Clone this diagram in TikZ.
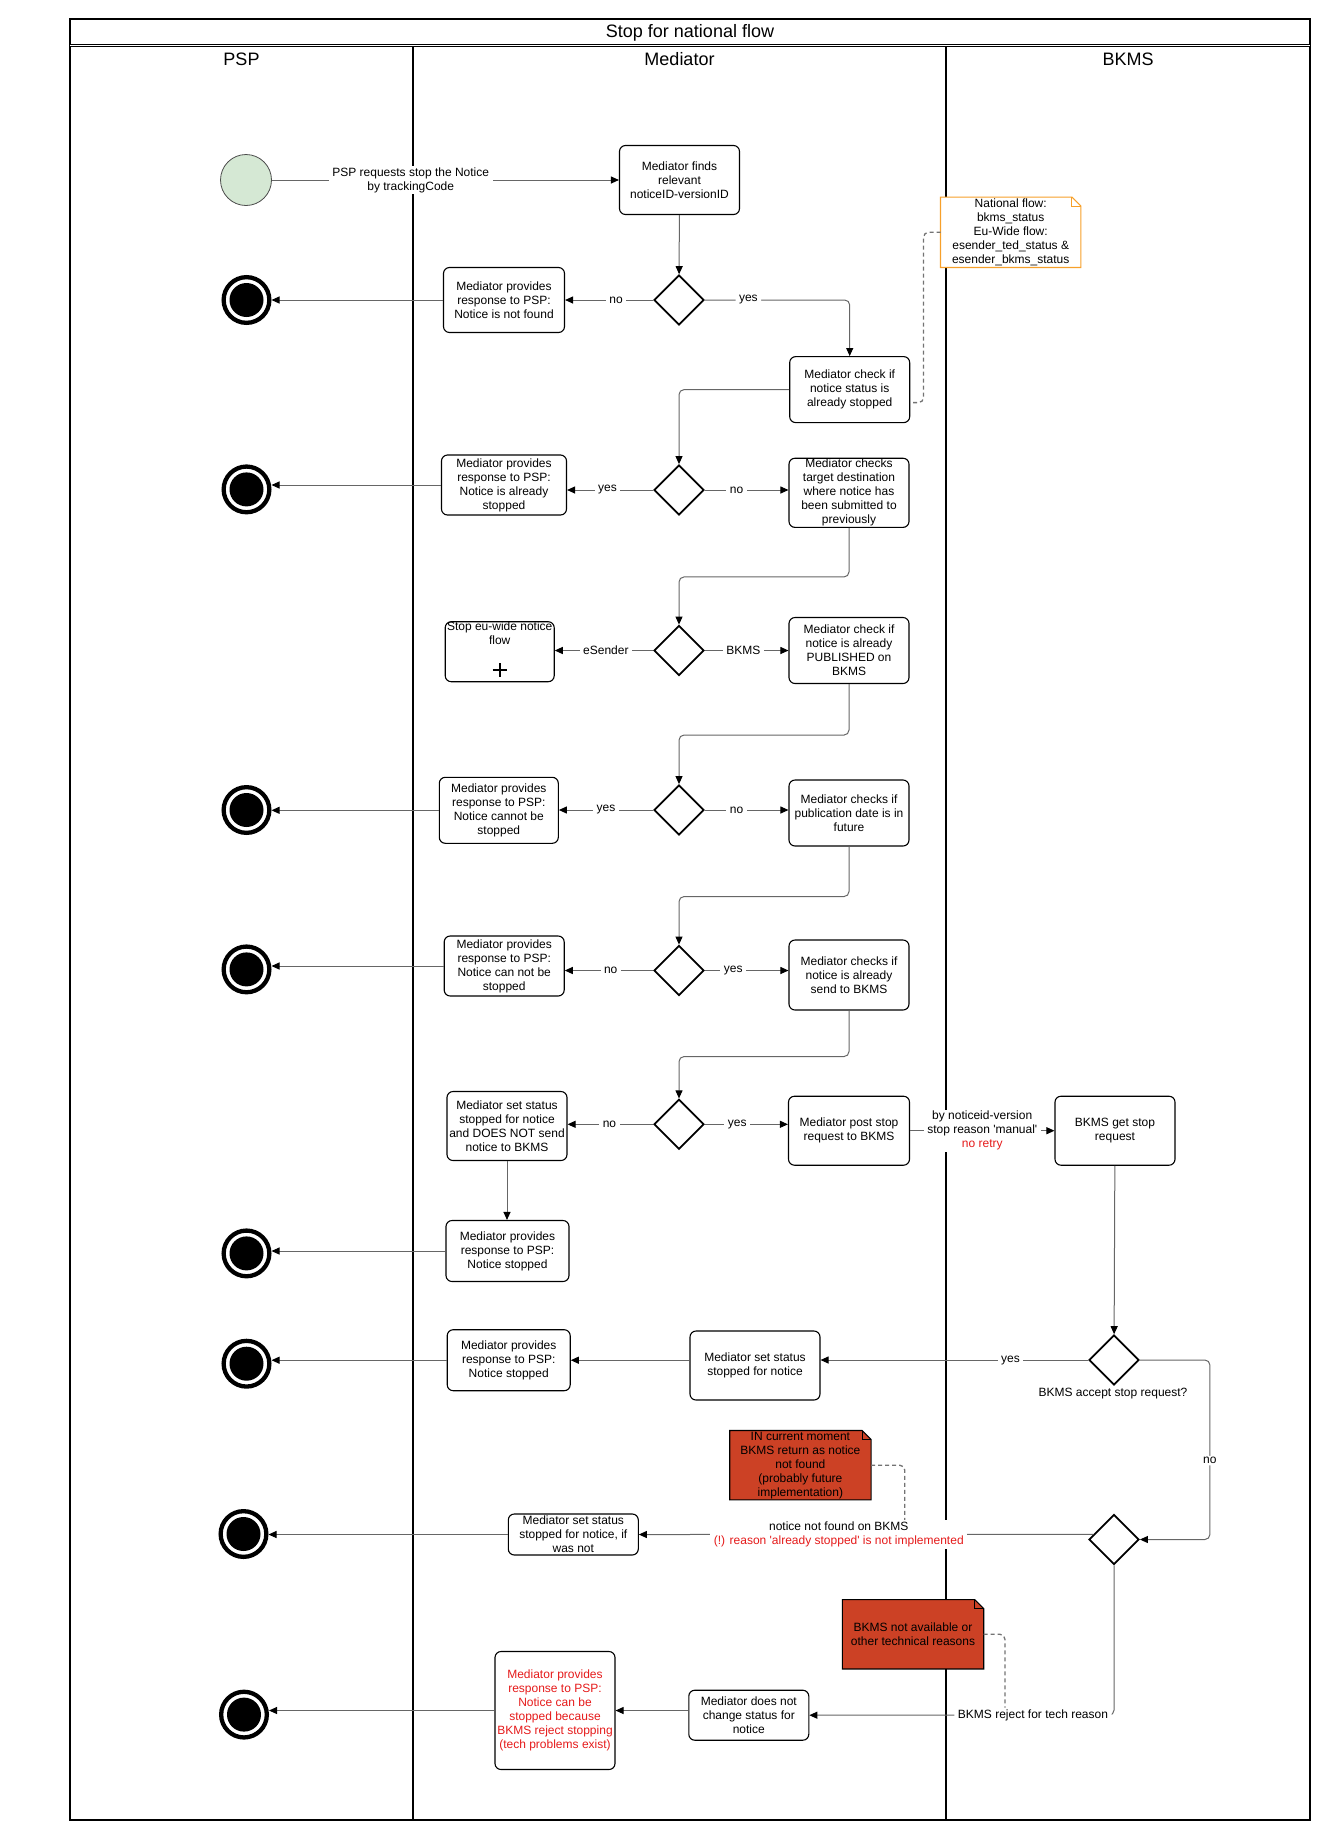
\documentclass[tikz,border=0pt]{standalone}
\usepackage{fontspec}
\setmainfont{Liberation Sans}
\usetikzlibrary{arrows.meta, shapes.geometric, calc}

\definecolor{startgreen}{HTML}{D5E8D4}
\definecolor{noteorange}{HTML}{F7A02A}
\definecolor{notered}{HTML}{CC4125}
\definecolor{warnred}{HTML}{E51A1A}

% folded corner of a note
\newcommand{\dogear}[2]{%
  \fill[white] ([xshift=-9pt]#1.north east) -- ([xshift=1pt,yshift=1pt]#1.north east) -- ([yshift=-9pt]#1.north east) -- cycle;
  \draw[#2, line width=1.1pt] (#1.north west) -- ([xshift=-9pt]#1.north east) -- ([yshift=-9pt]#1.north east) -- (#1.south east) -- (#1.south west) -- cycle;
  \draw[#2, line width=1.1pt] ([xshift=-9pt]#1.north east) |- ([yshift=-9pt]#1.north east);
}

\begin{document}
\begin{tikzpicture}[x=1pt, y=-1pt,
    every node/.style={font=\fontsize{12}{14}\selectfont},
    lanehead/.style={font=\fontsize{18}{21}\selectfont},
    actbox/.style={draw, rounded corners=6pt, line width=1.1pt, align=center, inner sep=1pt, minimum width=120pt, minimum height=66pt},
    decis/.style={draw, diamond, aspect=1, line width=1.8pt, inner sep=0pt, minimum width=50pt, minimum height=50pt},
    endev/.style={circle, draw, line width=4.3pt, minimum size=45.7pt, inner sep=0pt, path picture={\fill (path picture bounding box.center) circle (17pt);}},
    startev/.style={circle, draw=black!70, line width=0.8pt, fill=startgreen, minimum size=51pt, inner sep=0pt},
    flow/.style={draw=black!60, line width=1pt, -{Triangle[length=8pt, width=7pt, color=black]}},
    elbow/.style={flow, rounded corners=5pt},
    lbl/.style={fill=white, inner xsep=3.5pt, inner ysep=1.5pt, align=center},
    dashlink/.style={draw=black!55, line width=1.3pt, dash pattern=on 4pt off 3pt, rounded corners=5pt},
    notebody/.style={align=center, inner sep=1pt, minimum width=141pt, minimum height=69pt}
]
    \useasboundingbox (0,0) rectangle (1332,1840);

    % Pool and lanes
    \draw[line width=1.8pt] (70,19) rectangle (1310,1820);
    \draw[line width=1pt, double, double distance=0.6pt] (70,45.5) -- (1310,45.5);
    \draw[line width=1.8pt] (413,46) -- (413,1820);
    \draw[line width=1.8pt] (946,46) -- (946,1820);
    \node[lanehead] (title) at (690,32.5) {Stop for national flow};
    \node[lanehead] (lpsp) at (241.5,59.5) {PSP};
    \node[lanehead] (lmed) at (679.5,59.5) {Mediator};
    \node[lanehead] (lbkms) at (1128,59.5) {BKMS};

    % Notes
    \node[notebody, fill=white, minimum width=140pt, minimum height=70pt] (natnote) at (1010.7,232.3) {National flow:\\bkms\_status\\Eu-Wide flow:\\esender\_ted\_status \&\\esender\_bkms\_status};
    \dogear{natnote}{noteorange}
    \node[notebody, fill=notered] (rn1) at (800.4,1465.2) {IN current moment\\BKMS return as notice\\not found\\(probably future\\implementation)};
    \dogear{rn1}{black}
    \node[notebody, fill=notered] (rn2) at (913,1634.3) {BKMS not available or\\other technical reasons};
    \dogear{rn2}{black}

    % Events
    \node[startev] (start) at (246,180) {};
    \node[endev] (e1) at (246.5,300) {};
    \node[endev] (e2) at (246.5,489.4) {};
    \node[endev] (e3) at (246.5,810) {};
    \node[endev] (e4) at (246.5,969.4) {};
    \node[endev] (e5) at (246.5,1253.4) {};
    \node[endev] (e6) at (246.5,1363.7) {};
    \node[endev] (e7) at (243.5,1534) {};
    \node[endev] (e8) at (244,1714.6) {};

    % Decisions
    \node[decis] (d1) at (679,300) {};
    \node[decis] (d2) at (679,490) {};
    \node[decis] (d3) at (679,650.5) {};
    \node[decis] (d4) at (679,810) {};
    \node[decis] (d5) at (679,970.5) {};
    \node[decis] (d6) at (679,1124.3) {};
    \node[decis] (d7) at (1114,1360) {};
    \node[decis] (d8) at (1114,1539.5) {};
    \node (acc) at (1113,1394) {BKMS accept stop request?};

    % Mediator activities
    \node[actbox, minimum height=69pt] (find) at (679.5,180) {Mediator finds\\relevant\\noticeID-versionID};
    \node[actbox, minimum width=121pt, minimum height=65pt] (nf) at (504,300) {Mediator provides\\response to PSP:\\Notice is not found};
    \node[actbox] (cs) at (849.7,389.6) {Mediator check if\\notice status is\\already stopped};
    \node[actbox, minimum width=125pt, minimum height=60pt] (ab) at (504,485) {Mediator provides\\response to PSP:\\Notice is already\\stopped};
    \node[actbox, minimum height=69pt] (td) at (849,492.8) {Mediator checks\\target destination\\where notice has\\been submitted to\\previously};
    \node[actbox, minimum width=109pt, minimum height=60pt, label={[anchor=north, align=center, inner sep=0.5pt]north:{Stop eu-wide notice\\flow}}] (eu) at (499.7,651.7) {};
    \draw[line width=1.6pt] ([yshift=12pt]eu.south) ++(-7,0) -- ++(14,0) ([yshift=12pt]eu.south) ++(0,-7) -- ++(0,14);
    \node[actbox] (pub) at (849,650.5) {Mediator check if\\notice is already\\PUBLISHED on\\BKMS};
    \node[actbox, minimum width=119pt] (cb) at (498.8,810.3) {Mediator provides\\response to PSP:\\Notice cannot be\\stopped};
    \node[actbox] (pd) at (849,813) {Mediator checks if\\publication date is in\\future};
    \node[actbox, minimum height=60pt] (cn) at (504.2,966) {Mediator provides\\response to PSP:\\Notice can not be\\stopped};
    \node[actbox, minimum height=70pt] (snd) at (849,975) {Mediator checks if\\notice is already\\send to BKMS};
    \node[actbox, minimum height=69pt] (dn) at (507,1126) {Mediator set status\\stopped for notice\\and DOES NOT send\\notice to BKMS};
    \node[actbox, minimum width=121pt, minimum height=69pt] (ps) at (849,1130.7) {Mediator post stop\\request to BKMS};
    \node[actbox, minimum height=69pt] (bg) at (1115,1130.7) {BKMS get stop\\request};
    \node[actbox, minimum width=123pt, minimum height=61pt] (ns1) at (507.5,1251) {Mediator provides\\response to PSP:\\Notice stopped};
    \node[actbox, minimum width=130pt, minimum height=69pt] (sst) at (755,1365.5) {Mediator set status\\stopped for notice};
    \node[actbox, minimum width=123pt, minimum height=61pt] (ns2) at (508.7,1360.2) {Mediator provides\\response to PSP:\\Notice stopped};
    \node[actbox, minimum width=130pt, minimum height=41pt] (ww) at (573.3,1534.5) {Mediator set status\\stopped for notice, if\\was not};
    \node[actbox, minimum height=50pt] (dnc) at (748.8,1715.2) {Mediator does not\\change status for\\notice};
    \node[actbox, minimum height=118pt, text=warnred] (rt) at (555,1710.5) {Mediator provides\\response to PSP:\\Notice can be\\stopped because\\BKMS reject stopping\\(tech problems exist)};

    % Checks of the notice
    \draw[flow] (start) -- (find) node[lbl, pos=0.4] {PSP requests stop the Notice\\by trackingCode};
    \draw[flow] (find) -- (d1);
    \draw[flow] (d1.west) -- (d1.west -| nf.east) node[lbl, pos=0.42] {no};
    \draw[flow] (nf.west) -- (nf.west -| e1.east);
    \draw[elbow] (d1.east) -| (cs.north) node[lbl, pos=0.15] {yes};
    \draw[elbow] (cs.west) -| (d2.north);
    \draw[dashlink] (natnote.west) -- ++(-17,0) |- ([yshift=-13pt]cs.east);

    \draw[flow] (d2.west) -- (d2.west -| ab.east) node[lbl, pos=0.53] {yes};
    \draw[flow] (ab.west) -- (ab.west -| e2.east);
    \draw[flow] (d2.east) -- (d2.east -| td.west) node[lbl, pos=0.38] {no};
    \draw[elbow] (td.south) -- ++(0,49) -| (d3.north);

    \draw[flow] (d3.west) -- (d3.west -| eu.east) node[lbl, pos=0.48] {eSender};
    \draw[flow] (d3.east) -- (d3.east -| pub.west) node[lbl, pos=0.46] {BKMS};
    \draw[elbow] (pub.south) -- ++(0,51) -| (d4.north);

    \draw[flow] (d4.west) -- (d4.west -| cb.east) node[lbl, pos=0.5] {yes};
    \draw[flow] (cb.west) -- (cb.west -| e3.east);
    \draw[flow] (d4.east) -- (d4.east -| pd.west) node[lbl, pos=0.38] {no};
    \draw[elbow] (pd.south) -- ++(0,50) -| (d5.north);

    \draw[flow] (d5.west) -- (d5.west -| cn.east) node[lbl, pos=0.48] {no};
    \draw[flow] (cn.west) -- (cn.west -| e4.east);
    \draw[flow] (d5.east) -- (d5.east -| snd.west) node[lbl, pos=0.34] {yes};
    \draw[elbow] (snd.south) -- ++(0,46) -| (d6.north);

    % Stop request
    \draw[flow] (d6.west) -- (d6.west -| dn.east) node[lbl, pos=0.51] {no};
    \draw[flow] (d6.east) -- (d6.east -| ps.west) node[lbl, pos=0.39] {yes};
    \draw[flow] (ps.east) -- (bg.west) node[lbl, midway] {by noticeid-version\\stop reason \textquotesingle manual\textquotesingle\\\textcolor{warnred}{no retry}};
    \draw[flow] (dn.south) -- (dn.south |- ns1.north);
    \draw[flow] (ns1.west) -- (ns1.west -| e5.east);

    % BKMS answers
    \draw[flow] (bg) -- (d7);
    \draw[flow] (d7.west) -- (d7.west -| sst.east) node[lbl, pos=0.29] {yes};
    \draw[flow] (sst.west |- ns2.east) -- (ns2.east);
    \draw[flow] (ns2.west) -- (ns2.west -| e6.east);
    \draw[elbow] (d7.east) -- ++(70,0) |- (d8.east) node[lbl, pos=0.28] {no};

    \draw[flow] ($(d8.west)!0.2!(d8.north)$) -- (ww.east) node[lbl, pos=0.56] (nfl) {notice not found on BKMS\\\textcolor{warnred}{(!) reason \textquotesingle already stopped\textquotesingle{} is not implemented}};
    \draw[flow] (ww.west) -- (ww.west -| e7.east);
    \draw[dashlink] (rn1.east) -| ([xshift=66pt]nfl.north);

    \draw[elbow] (d8.south) |- (dnc.east) node[lbl, pos=0.633] (trl) {BKMS reject for tech reason};
    \draw[dashlink] (rn2.east) -| ([xshift=-28pt]trl.north);
    \draw[flow] (dnc.west |- rt.east) -- (rt.east);
    \draw[flow] (rt.west) -- (rt.west -| e8.east);
\end{tikzpicture}
\end{document}
